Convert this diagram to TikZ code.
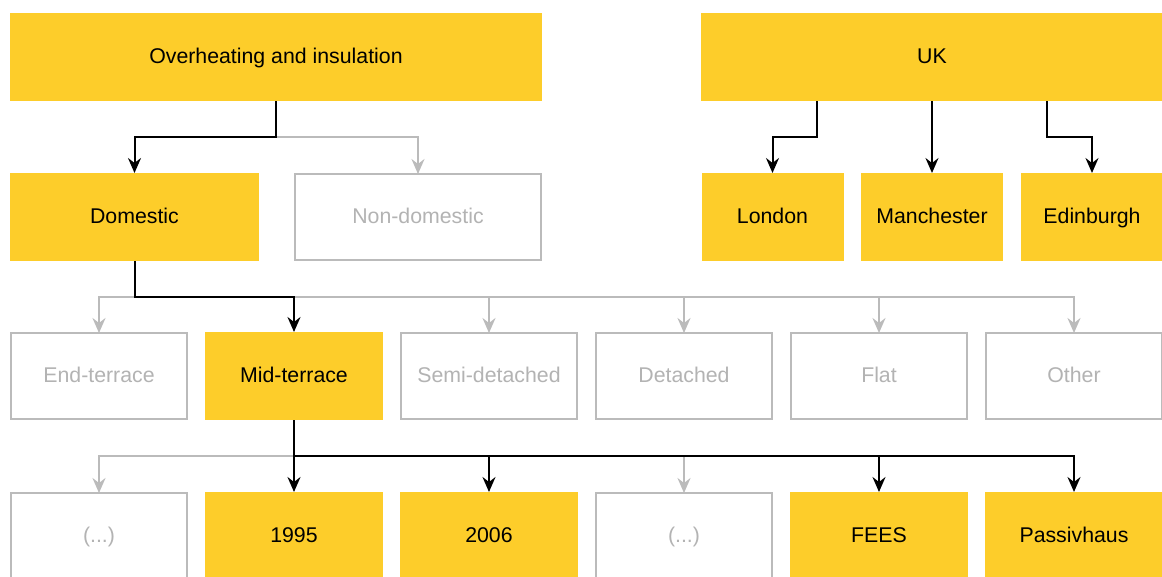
\documentclass[tikz,border=0pt]{standalone}
\usepackage{fontspec}
\setmainfont{Liberation Sans}
\usetikzlibrary{arrows.meta}
\definecolor{boxyellow}{HTML}{FDCD2A}
\definecolor{mutedgray}{HTML}{BBBBBB}
\definecolor{mutedtext}{HTML}{B3B3B3}
\begin{document}
\begin{tikzpicture}[x=1pt,y=-1pt,
  every node/.style={font=\fontsize{21.3}{25}\selectfont, inner sep=0pt, outer sep=0pt,
    text height=15.5pt, text depth=2.5pt},
  active/.style={fill=boxyellow, text=black, minimum height=88pt},
  muted/.style={draw=mutedgray, line width=2pt, fill=white, text=mutedtext,
    minimum height=86pt},
  tip/.style={-{Stealth[length=15pt,width=13pt,inset=5pt]}},
  activeline/.style={draw=black, line width=2pt, tip},
  mutedline/.style={draw=mutedgray, line width=2pt, tip},
]
\useasboundingbox (0,0) rectangle (1162,576);
\clip (0,0) rectangle (1162,576);

% bus levels
\coordinate (busA) at (0,137);
\coordinate (busB) at (0,297);
\coordinate (busC) at (0,456);

% top row
\node[active, minimum width=532pt] (topic) at (276,57) {Overheating and insulation};
\node[active, minimum width=462pt] (uk) at (932,57) {UK};

% second row
\node[active, minimum width=249pt] (dom) at (134.5,217) {Domestic};
\node[muted, minimum width=246pt] (nondom) at (418,217) {Non-domestic};
\node[active, minimum width=142pt] (lon) at (772.5,217) {London};
\node[active, minimum width=142pt] (man) at (932,217) {Manchester};
\node[active, minimum width=142pt] (edi) at (1092,217) {Edinburgh};

% dwelling types
\node[muted, minimum width=176pt] (endt) at (99,376) {End-terrace};
\node[active, minimum width=178pt] (midt) at (294,376) {Mid-terrace};
\node[muted, minimum width=176pt] (semi) at (489,376) {Semi-detached};
\node[muted, minimum width=176pt] (det) at (684,376) {Detached};
\node[muted, minimum width=176pt] (flat) at (879,376) {Flat};
\node[muted, minimum width=176pt] (oth) at (1074,376) {Other};

% standards
\node[muted, minimum width=176pt] (ellA) at (99,536) {(...)};
\node[active, minimum width=178pt] (yA) at (294,536) {1995};
\node[active, minimum width=178pt] (yB) at (489,536) {2006};
\node[muted, minimum width=176pt] (ellB) at (684,536) {(...)};
\node[active, minimum width=178pt] (fees) at (879,536) {FEES};
\node[active, minimum width=178pt] (pass) at (1074,536) {Passivhaus};

% topic -> sector
\draw[mutedline] (topic.south |- busA) -| (nondom.north);
\draw[activeline] (topic.south) -- (topic.south |- busA) -| (dom.north);

% UK -> cities
\coordinate (ukL) at ([xshift=-115pt]uk.south);
\coordinate (ukR) at ([xshift=115pt]uk.south);
\draw[activeline] (ukL) -- (ukL |- busA) -| (lon.north);
\draw[activeline] (uk.south) -- (man.north);
\draw[activeline] (ukR) -- (ukR |- busA) -| (edi.north);

% domestic -> dwelling types
\foreach \t in {endt,semi,det,flat,oth}
  \draw[mutedline] (dom.south |- busB) -| (\t.north);
\draw[activeline] (dom.south) -- (dom.south |- busB) -| (midt.north);

% mid-terrace -> standards
\foreach \t in {ellA,ellB}
  \draw[mutedline] (midt.south |- busC) -| (\t.north);
\draw[activeline] (midt.south) -- (yA.north);
\foreach \t in {yB,fees,pass}
  \draw[activeline] (midt.south) -- (midt.south |- busC) -| (\t.north);
\end{tikzpicture}
\end{document}
